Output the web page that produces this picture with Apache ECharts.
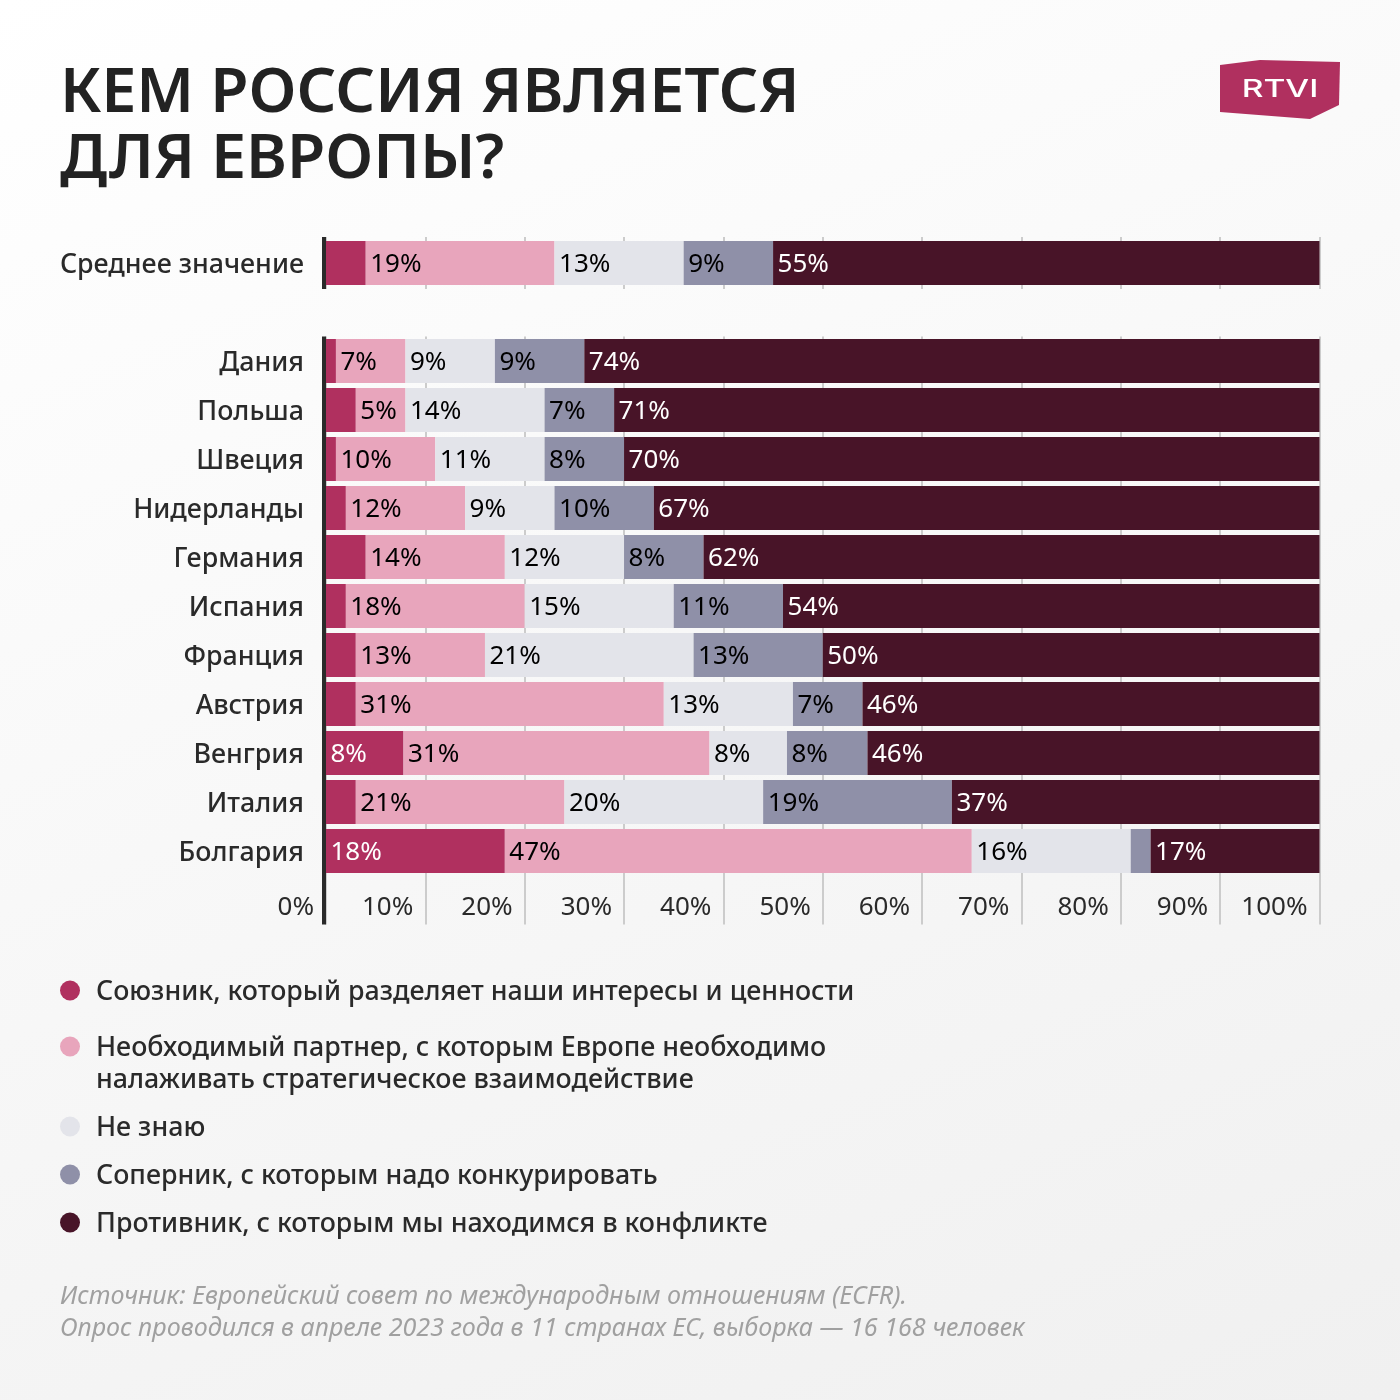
<!DOCTYPE html>
<html>
<head>
<meta charset="utf-8">
<title>Кем Россия является для Европы?</title>
<style>
html, body { margin: 0; padding: 0; background: #fff; }
#main { width: 1400px; height: 1400px; }
</style>
<script src="https://cdn.jsdelivr.net/npm/echarts@6/dist/echarts.min.js"></script>
</head>
<body>
<div id="main"></div>
<script>
var seriesNames = [
    'Союзник, который разделяет наши интересы и ценности',
    'Необходимый партнер, с которым Европе необходимо',
    'Не знаю',
    'Соперник, с которым надо конкурировать',
    'Противник, с которым мы находимся в конфликте'
];
var seriesColors = ['#b0305f', '#e8a5bc', '#e3e4ea', '#8f90a8', '#481428'];

var avgCategories = ['Среднее значение'];
var avgAlly = [4];
var avgPartner = [19];
var avgUnknown = [13];
var avgRival = [9];
var avgEnemy = [55];

var categories = ['Дания', 'Польша', 'Швеция', 'Нидерланды', 'Германия', 'Испания', 'Франция', 'Австрия', 'Венгрия', 'Италия', 'Болгария', ''];
var ally =    [1, 3, 1, 2, 4, 2, 3, 3, 7.8, 3, 18];
var partner = [7, 5, 10, 12, 14, 18, 13, 31, 30.8, 21, 47];
var unknown = [9, 14, 11, 9, 12, 15, 21, 13, 7.8, 20, 16];
var rival =   [9, 7, 8, 10, 8, 11, 13, 7, 8.1, 19, 2];
var enemy =   [74, 71, 70, 67, 62, 54, 50, 46, 45.5, 37, 17];

var font = '"Noto Sans"';
var textColor = '#2a2a2a';

function makeSeries(name, color, data, axisIndex, labelColor) {
    return {
        name: name,
        type: 'bar',
        stack: 'g' + axisIndex,
        xAxisIndex: axisIndex,
        yAxisIndex: axisIndex,
        barWidth: 44,
        itemStyle: { color: color },
        label: {
            show: true,
            position: 'insideLeft',
            distance: 4,
            offset: [0.5, 2],
            color: labelColor,
            fontFamily: font,
            fontSize: 26,
            formatter: function (p) {
                return p.value >= 5 ? Math.round(p.value) + '%' : '';
            }
        },
        emphasis: { disabled: true },
        data: data
    };
}

var avgData = [avgAlly, avgPartner, avgUnknown, avgRival, avgEnemy];
var countryData = [ally, partner, unknown, rival, enemy];
var labelColors = ['#fff', '#000', '#000', '#000', '#fff'];

var series = [];
seriesNames.forEach(function (n, i) {
    series.push(makeSeries(n, seriesColors[i], avgData[i], 0, labelColors[i]));
    series.push(makeSeries(n, seriesColors[i], countryData[i], 1, labelColors[i]));
});

var legendTops = [979, 1035, 1115, 1163, 1211];
var legends = seriesNames.map(function (n, i) {
    return {
        left: 60,
        top: legendTops[i],
        padding: 0,
        icon: 'circle',
        itemWidth: 20,
        itemHeight: 20,
        selectedMode: false,
        data: [n],
        formatter: '{t|{name}}',
        textStyle: {
            rich: {
                t: {
                    color: textColor,
                    fontFamily: font,
                    fontSize: 26.8,
                    fontWeight: 500,
                    padding: [4, 0, 0, 11]
                }
            }
        }
    };
});

function valueAxis(gridIndex, showLabels) {
    return {
        type: 'value',
        gridIndex: gridIndex,
        min: 0,
        max: 100,
        interval: 10,
        axisLine: { show: false },
        axisTick: { show: false },
        splitLine: { show: true, lineStyle: { color: '#cccccc', width: 2 } },
        axisLabel: {
            show: showLabels,
            inside: true,
            margin: 4,
            align: 'right',
            padding: [0, 12, 0, 0],
            color: textColor,
            fontFamily: font,
            fontSize: 26,
            formatter: '{value}%'
        }
    };
}

function categoryAxis(gridIndex, data) {
    return {
        type: 'category',
        gridIndex: gridIndex,
        inverse: true,
        offset: 2,
        data: data,
        axisLine: { show: true, onZero: false, lineStyle: { color: textColor, width: 4, cap: 'butt' } },
        axisTick: { show: false },
        splitLine: { show: false },
        axisLabel: {
            margin: 20,
            formatter: '{t|{value}}',
            rich: {
                t: {
                    color: textColor,
                    fontFamily: font,
                    fontSize: 26.8,
                    fontWeight: 500,
                    padding: [4, 0, 0, 0]
                }
            }
        }
    };
}

var option = {
    animation: false,
    backgroundColor: new echarts.graphic.LinearGradient(0, 0, 0.48, 1.2, [
        { offset: 0, color: '#ffffff' },
        { offset: 1, color: '#f0f0f0' }
    ]),
    title: [
        {
            text: 'КЕМ РОССИЯ ЯВЛЯЕТСЯ\nДЛЯ ЕВРОПЫ?',
            left: 60,
            top: 61,
            padding: 0,
            textStyle: {
                color: '#222222',
                fontFamily: font,
                fontSize: 62.2,
                fontWeight: 600,
                lineHeight: 66
            }
        },
        {
            text: 'Источник: Европейский совет по международным отношениям (ECFR).\nОпрос проводился в апреле 2023 года в 11 странах ЕС, выборка — 16 168 человек',
            left: 60,
            top: 1281,
            padding: 0,
            textStyle: {
                color: '#a0a0a0',
                fontFamily: font,
                fontSize: 25.1,
                fontStyle: 'italic',
                fontWeight: 400,
                lineHeight: 32
            }
        }
    ],
    legend: legends,
    grid: [
        { left: 326, width: 993.5, top: 237, height: 52 },
        { left: 326, width: 993.5, top: 336.5, height: 588 }
    ],
    xAxis: [valueAxis(0, false), valueAxis(1, true)],
    yAxis: [categoryAxis(0, avgCategories), categoryAxis(1, categories)],
    series: series,
    graphic: [
        {
            type: 'text',
            left: 96,
            top: 1067,
            style: {
                text: 'налаживать стратегическое взаимодействие',
                fill: textColor,
                font: '500 26.8px "Noto Sans"'
            }
        },
        {
            type: 'polygon',
            shape: { points: [[1220, 65], [1260, 60], [1340, 62], [1339, 105], [1310, 119], [1220, 112]] },
            style: { fill: '#b0305f' }
        },
        {
            type: 'text',
            x: 1280,
            y: 90,
            scaleX: 1.4,
            style: {
                text: 'RTVI',
                fill: '#ffffff',
                font: '500 24px Inter',
                align: 'center',
                verticalAlign: 'middle'
            }
        }
    ]
};

var myChart = echarts.init(document.getElementById('main'));
myChart.setOption(option);
</script>
</body>
</html>
